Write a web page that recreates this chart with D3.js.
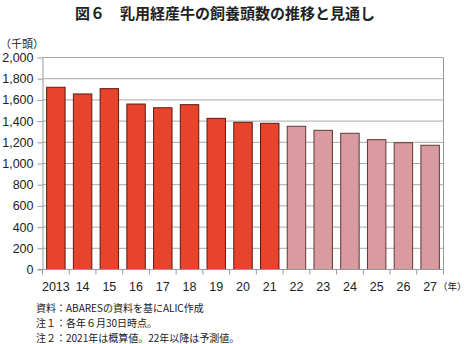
<!DOCTYPE html>
<html>
<head>
<meta charset="utf-8">
<script src="https://cdn.jsdelivr.net/npm/d3@7"></script>
<style>
  html, body { margin: 0; padding: 0; background: #fff; }
  svg { display: block; font-family: "Noto Sans CJK JP", "Noto Sans", sans-serif; }
</style>
</head>
<body>
<svg id="chart" width="467" height="344"></svg>
<script>
// 乳用経産牛の飼養頭数（千頭）
const years = ["2013", "14", "15", "16", "17", "18", "19", "20", "21", "22", "23", "24", "25", "26", "27"];
const heads = [1719, 1656, 1706, 1561, 1526, 1555, 1426, 1389, 1379, 1351, 1313, 1285, 1225, 1196, 1172];
// 22年以降は予測値
const forecast = [false, false, false, false, false, false, false, false, false, true, true, true, true, true, true];
const yTicks = [0, 200, 400, 600, 800, 1000, 1200, 1400, 1600, 1800, 2000];
const notes = [
  "資料：ABARESの資料を基にALIC作成",
  "注１：各年６月30日時点。",
  "注２：2021年は概算値。22年以降は予測値。"
];

const svg = d3.select("#chart");
const margin = { left: 42.5, right: 443.5, top: 57.5, bottom: 269.5 };

const x = d3.scaleBand().domain(years).range([margin.left, margin.right]).paddingInner(0.31).paddingOuter(0.155);
const y = d3.scaleLinear().domain([0, 2000]).range([margin.bottom, margin.top]);

// タイトル
svg.append("text")
  .attr("x", 225).attr("y", 19)
  .attr("text-anchor", "middle")
  .attr("font-size", 15).attr("font-weight", "bold").attr("fill", "#222")
  .text("図６　乳用経産牛の飼養頭数の推移と見通し");

// 単位
svg.append("text")
  .attr("x", 0).attr("y", 48)
  .attr("font-size", 11).attr("fill", "#222")
  .text("（千頭）");

// 横グリッド
svg.append("g")
  .selectAll("line")
  .data(yTicks.filter(d => d > 0))
  .join("line")
  .attr("x1", margin.left).attr("x2", margin.right)
  .attr("y1", d => y(d)).attr("y2", d => y(d))
  .attr("stroke", "#a8a8a8").attr("stroke-width", 1);

// 右枠
svg.append("line")
  .attr("x1", margin.right).attr("x2", margin.right)
  .attr("y1", margin.top).attr("y2", margin.bottom)
  .attr("stroke", "#999");

// 棒
svg.append("g")
  .selectAll("rect")
  .data(years.map((yr, i) => ({ yr, v: heads[i], f: forecast[i] })))
  .join("rect")
  .attr("x", d => x(d.yr))
  .attr("width", x.bandwidth())
  .attr("y", d => y(d.v))
  .attr("height", d => y(0) - y(d.v))
  .attr("fill", d => d.f ? "#d99b9f" : "#e8432b")
  .attr("stroke", d => d.f ? "#5e3838" : "#5e1a10")
  .attr("stroke-width", 1);

// Y軸
const yAxis = svg.append("g")
  .attr("transform", `translate(${margin.left},0)`)
  .call(d3.axisLeft(y).tickValues(yTicks).tickSize(5).tickSizeOuter(0).tickFormat(d3.format(",")));
yAxis.select(".domain").attr("stroke", "#999");
yAxis.selectAll(".tick line").attr("stroke", "#999");
yAxis.selectAll(".tick text")
  .attr("x", -9)
  .attr("font-size", 12.5).attr("fill", "#222")
  .attr("font-family", "'Liberation Sans', Arial, sans-serif");

// X軸（目盛りは各区間の境界）
const xAxis = svg.append("g")
  .attr("transform", `translate(0,${margin.bottom})`);
xAxis.append("line")
  .attr("x1", margin.left - 5).attr("x2", margin.right)
  .attr("stroke", "#999");
xAxis.selectAll("line.tk")
  .data(d3.range(years.length + 1))
  .join("line")
  .attr("class", "tk")
  .attr("x1", i => margin.left + i * (margin.right - margin.left) / years.length)
  .attr("x2", i => margin.left + i * (margin.right - margin.left) / years.length)
  .attr("y1", 0).attr("y2", 5)
  .attr("stroke", "#999");
xAxis.selectAll("text")
  .data(years)
  .join("text")
  .attr("x", d => x(d) + x.bandwidth() / 2)
  .attr("y", 21)
  .attr("text-anchor", "middle")
  .attr("font-size", 12.5).attr("fill", "#222")
  .attr("font-family", "'Liberation Sans', Arial, sans-serif")
  .text(d => d);

svg.append("text")
  .attr("x", 438).attr("y", 290)
  .attr("text-anchor", "start")
  .attr("font-size", 9.5).attr("fill", "#222")
  .text("（年）");

// 注記
svg.append("g")
  .selectAll("text")
  .data(notes)
  .join("text")
  .attr("x", 36)
  .attr("y", (d, i) => 312 + i * 15)
  .attr("font-size", 10).attr("fill", "#222")
  .text(d => d);
</script>
</body>
</html>
